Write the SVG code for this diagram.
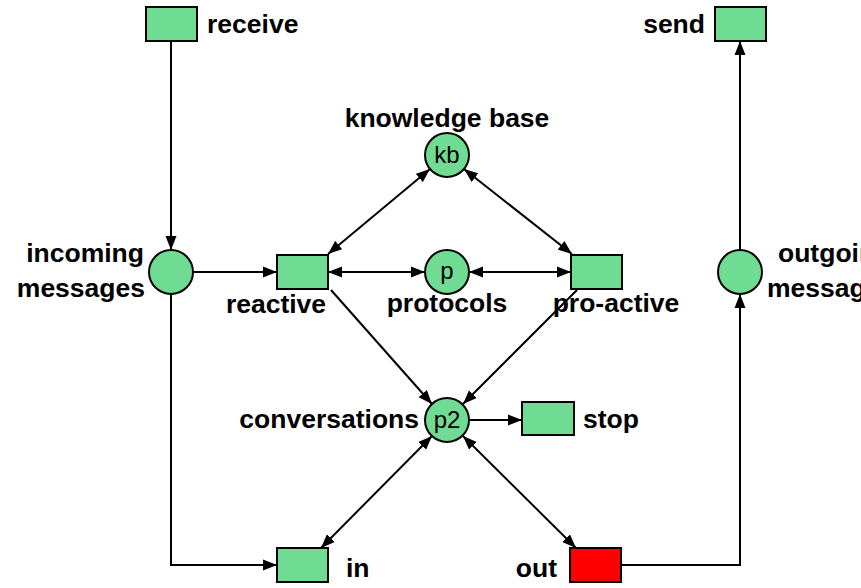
<svg xmlns="http://www.w3.org/2000/svg" width="861" height="588" viewBox="0 0 861 588">
<style>
.t{fill:#70DB93;stroke:#000;stroke-width:2}
.p{fill:#70DB93;stroke:#000;stroke-width:2}
.red{fill:#FF0000;stroke:#000;stroke-width:2}
.lbl{font-family:"Liberation Sans",Arial,sans-serif;font-weight:bold;font-size:26.5px;fill:#000}
.in{font-family:"Liberation Sans",Arial,sans-serif;font-size:24px;fill:#000;text-anchor:middle}
.c{fill:none;stroke:#000;stroke-width:2}
</style>
<defs>
<marker id="ah" viewBox="0 0 14 12" refX="14" refY="6" markerWidth="14" markerHeight="12" markerUnits="userSpaceOnUse" orient="auto-start-reverse">
<path d="M0,0.5 L14,6 L0,11.5 Z" fill="#000"/>
</marker>
</defs>
<g id="connectors">
<path class="c" d="M171,41 V250" marker-end="url(#ah)"/>
<path class="c" d="M193,272 H277" marker-end="url(#ah)"/>
<path class="c" d="M171,294 V565 H277" marker-end="url(#ah)"/>
<path class="c" d="M328,254 L430,169" marker-start="url(#ah)" marker-end="url(#ah)"/>
<path class="c" d="M464,169 L572,254" marker-start="url(#ah)" marker-end="url(#ah)"/>
<path class="c" d="M328,272 H425" marker-start="url(#ah)" marker-end="url(#ah)"/>
<path class="c" d="M469,272 H571" marker-start="url(#ah)" marker-end="url(#ah)"/>
<path class="c" d="M331,290 L432,404" marker-end="url(#ah)"/>
<path class="c" d="M577,290 L463,404" marker-end="url(#ah)"/>
<path class="c" d="M469,420 H522" marker-end="url(#ah)"/>
<path class="c" d="M432,436 L321,548" marker-start="url(#ah)" marker-end="url(#ah)"/>
<path class="c" d="M463,436 L576,548" marker-start="url(#ah)" marker-end="url(#ah)"/>
<path class="c" d="M621,565 H740 V294" marker-end="url(#ah)"/>
<path class="c" d="M740,250 V41" marker-end="url(#ah)"/>
</g>
<g id="receive"><rect class="t" x="146" y="7" width="51" height="34"/><text class="lbl" x="207" y="33">receive</text></g>
<g id="send"><rect class="t" x="715" y="7" width="51" height="34"/><text class="lbl" x="705" y="33" text-anchor="end">send</text></g>
<g id="incoming"><circle class="p" cx="171" cy="272" r="22"/><text class="lbl" x="144" y="262" text-anchor="end">incoming</text><text class="lbl" x="145" y="297" text-anchor="end">messages</text></g>
<g id="reactive"><rect class="t" x="277" y="255" width="51" height="34"/><text class="lbl" x="276" y="313" text-anchor="middle">reactive</text></g>
<g id="kb"><circle class="p" cx="447" cy="155" r="22"/><text class="in" x="447" y="163">kb</text><text class="lbl" x="447" y="127" text-anchor="middle">knowledge base</text></g>
<g id="p"><circle class="p" cx="447" cy="272" r="22"/><text class="in" x="447" y="279">p</text><text class="lbl" x="447" y="312" text-anchor="middle">protocols</text></g>
<g id="proactive"><rect class="t" x="571" y="255" width="51" height="34"/><text class="lbl" x="616" y="312" text-anchor="middle">pro-active</text></g>
<g id="outgoing"><circle class="p" cx="740" cy="272" r="22"/><text class="lbl" x="778" y="262">outgoing</text><text class="lbl" x="767" y="297">messages</text></g>
<g id="p2"><circle class="p" cx="447" cy="420" r="22"/><text class="in" x="447" y="428">p2</text><text class="lbl" x="419" y="428" text-anchor="end">conversations</text></g>
<g id="stop"><rect class="t" x="522" y="402" width="52" height="33"/><text class="lbl" x="583" y="428">stop</text></g>
<g id="in"><rect class="t" x="277" y="548" width="51" height="34"/><text class="lbl" x="346" y="577">in</text></g>
<g id="out"><rect class="red" x="570" y="548" width="51" height="34"/><text class="lbl" x="557" y="577" text-anchor="end">out</text></g>
</svg>
